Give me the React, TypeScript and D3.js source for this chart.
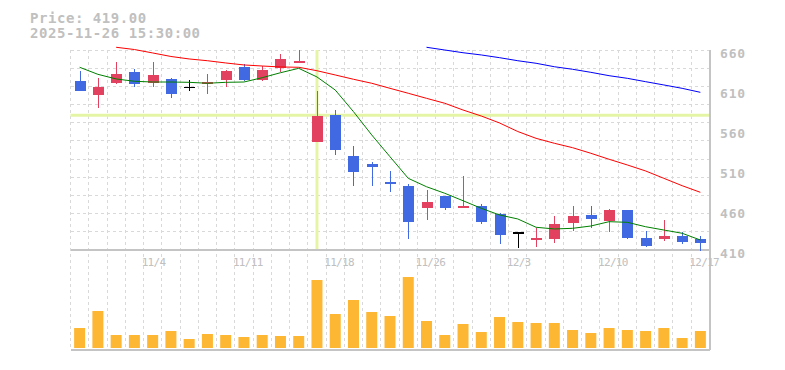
import React from "react";
import * as d3 from "d3";

// trading days shown on the chart
const dates = [
  "10/28", "10/29", "10/30", "10/31", "11/4", "11/5", "11/6", "11/7", "11/10", "11/11",
  "11/12", "11/13", "11/14", "11/17", "11/18", "11/19", "11/20", "11/21", "11/25", "11/26",
  "11/27", "11/28", "12/1", "12/2", "12/3", "12/4", "12/5", "12/8", "12/9", "12/10",
  "12/11", "12/12", "12/15", "12/16", "12/17",
];

const openPrices = [
  621, 604, 619, 632.5, 619, 624, 613, 617, 623, 639,
  622.5, 637, 644, 545, 579, 527.5, 517.5, 495, 490, 462,
  478, 464, 465, 455, 431, 422, 424, 444, 454, 446,
  460, 425, 424, 427.5, 424,
];
const highPrices = [
  634, 625, 645, 636, 645, 625, 623, 630, 635, 642,
  640, 655, 660, 609, 585, 540, 520, 509, 493, 485,
  478, 502.5, 467.5, 456, 432, 438, 452.5, 465, 465, 461,
  460, 434, 447.5, 432, 428,
];
const lowPrices = [
  609, 587.5, 617, 614, 614, 600, 609, 605, 614, 621.5,
  621.5, 633, 643.5, 545, 529, 490, 490, 482, 424, 447,
  460, 463.5, 443, 417, 413, 414, 419, 434, 438, 432,
  423.5, 414, 421.5, 417.5, 409,
];
const closePrices = [
  609, 614, 630, 618, 629, 605, 613, 620, 634, 623,
  635, 649, 646, 578, 535, 507, 514, 494.5, 445, 470,
  463, 465.5, 445, 429, 431, 425, 442.5, 452.5, 449, 460,
  425, 415, 428, 420, 419,
];
const volumes = [
  20000, 37000, 13000, 13000, 13000, 17000, 9000, 14000, 13000, 11000,
  13000, 12000, 12000, 68000, 34000, 48000, 36000, 32000, 71000, 27000,
  13000, 24000, 16000, 31000, 26000, 25000, 25000, 18000, 15000, 20000,
  18000, 17000, 20000, 10000, 17000,
];

// moving averages (as drawn)
const ma5 = [
  638.4, 629.6, 623.8, 620.9, 620, 620, 619.6, 618.4, 619.6, 620,
  625.4, 631.6, 637.1, 626.3, 610, 582.9, 553.8, 526.6, 499.6, 489.1,
  480.9, 471.6, 462.1, 453.8, 448.8, 438.4, 436.3, 437.1, 440, 445.4,
  444.6, 439.1, 435, 430.9, 422.5,
];
const ma25 = [
  null, null, 663.4, 660.6, 656.3, 651.9, 648.8, 646.6, 643.8, 641.3,
  640, 638.8, 638.4, 634.1, 628.8, 623.4, 618.4, 612.1, 605.9, 599.6,
  593.4, 585, 577.5, 568.8, 558.1, 549.6, 543.4, 537.9, 530.9, 523.4,
  516.3, 508.8, 499.6, 490.4, 482.1,
];
const ma75 = [
  null, null, null, null, null, null, null, null, null, null,
  null, null, null, null, null, null, null, null, null, 663.4,
  660, 656.6, 653.8, 650.4, 646.6, 643.4, 639.1, 635.9, 632.1, 627.9,
  624.6, 620.4, 616.3, 612.1, 607.1,
];

const priceTicks = [660, 610, 560, 510, 460, 410];
const dateTicks = ["11/4", "11/11", "11/18", "11/26", "12/3", "12/10", "12/17"];

const crossDate = "11/17";
const crossPrice = 578.4;

const W = 785;
const H = 370;
const left = 70.5;
const right = 709.5;
const priceTop = 50;
const priceBottom = 250;
const volBottom = 350;

const UP = "#e2415f";
const DOWN = "#4169e1";
const GRID = "#d9d9d9";
const TEXT = "#c0c0c0";

export default function App() {
  const x = d3.scaleBand<string>().domain(dates).range([left, right]).padding(0);
  const cx = (d: string) => (x(d) as number) + x.bandwidth() / 2;
  const y = d3.scaleLinear().domain([410, 660]).range([priceBottom, priceTop]);
  const yv = d3.scaleLinear().domain([0, 100000]).range([348, 248]);

  const gridY = d3.range(12).map((i) => priceTop + (i * (priceBottom - priceTop)) / 11);
  const gridX = d3.range(36).map((i) => left + i * x.step());

  const line = d3
    .line<number | null>()
    .defined((v) => v != null)
    .x((_, i) => cx(dates[i]))
    .y((v) => y(v as number));

  const bodyW = 11;

  return (
    <svg
      width={W}
      height={H}
      style={{ position: "absolute", left: 0, top: 0, background: "#fff" }}
      fontFamily="'DejaVu Sans Mono', monospace"
    >
      {/* grid */}
      <g stroke={GRID} strokeDasharray="3,3" shapeRendering="crispEdges">
        {gridY.slice(0, 11).map((gy, i) => (
          <line key={"h" + i} x1={left} x2={right} y1={gy} y2={gy} />
        ))}
        {gridX.slice(0, 35).map((gx, i) => (
          <line key={"v" + i} x1={gx} x2={gx} y1={priceTop} y2={volBottom} />
        ))}
      </g>

      {/* crosshair */}
      <g stroke="#e5f5a6" strokeWidth={3}>
        <line x1={left} x2={right} y1={y(crossPrice)} y2={y(crossPrice)} />
        <line x1={cx(crossDate)} x2={cx(crossDate)} y1={priceTop} y2={priceBottom} />
      </g>

      {/* frame */}
      <g stroke="#c4c4c4" shapeRendering="crispEdges" fill="none">
        <line x1={left} x2={right} y1={priceBottom} y2={priceBottom} strokeWidth={2} />
        <line x1={left} x2={right} y1={volBottom} y2={volBottom} strokeWidth={2} />
        <line x1={right} x2={right} y1={priceTop} y2={volBottom} strokeWidth={2} />
      </g>

      {/* volume */}
      <g fill="#fdb733">
        {dates.map((d, i) => (
          <rect
            key={d}
            x={cx(d) - bodyW / 2}
            width={bodyW}
            y={yv(volumes[i])}
            height={yv(0) - yv(volumes[i])}
          />
        ))}
      </g>

      {/* candles */}
      <g shapeRendering="crispEdges">
        {dates.map((d, i) => {
          const o = openPrices[i];
          const c = closePrices[i];
          const color = c > o ? UP : c < o ? DOWN : "#000";
          const xc = Math.round(cx(d)) + 0.5;
          const top = y(Math.max(o, c));
          const bot = y(Math.min(o, c));
          return (
            <g key={d}>
              <line
                x1={xc}
                x2={xc}
                y1={y(highPrices[i])}
                y2={y(lowPrices[i])}
                stroke={color}
                strokeWidth={c === o ? 1.5 : 1}
              />
              {c === o ? (
                <line x1={xc - bodyW / 2} x2={xc + bodyW / 2} y1={top} y2={top} stroke="#000" strokeWidth={1.5} />
              ) : (
                <rect x={xc - bodyW / 2} width={bodyW} y={top} height={Math.max(bot - top, 2)} fill={color} />
              )}
            </g>
          );
        })}
      </g>

      {/* moving averages */}
      <path d={line(ma75) ?? ""} fill="none" stroke="#0000ff" strokeWidth={1} />
      <path d={line(ma25) ?? ""} fill="none" stroke="#ff0000" strokeWidth={1} />
      <path d={line(ma5) ?? ""} fill="none" stroke="#008000" strokeWidth={1} />

      {/* price axis */}
      <g fill={TEXT} fontSize={13} fontWeight="bold" letterSpacing={0.8}>
        {priceTicks.map((t) => (
          <text key={t} x={720} y={y(t) + 7.5}>
            {t}
          </text>
        ))}
      </g>

      {/* date labels */}
      <g fill={TEXT} fontSize={11} letterSpacing={-0.7}>
        {dateTicks.map((t) => (
          <text key={t} x={cx(t) - 11} y={265.5}>
            {t}
          </text>
        ))}
      </g>

      {/* info */}
      <g fill={TEXT} fontSize={14} fontWeight="bold" letterSpacing={0.55}>
        <text x={30} y={22.5}>Price: 419.00</text>
        <text x={30} y={37.5}>2025-11-26 15:30:00</text>
      </g>
    </svg>
  );
}
